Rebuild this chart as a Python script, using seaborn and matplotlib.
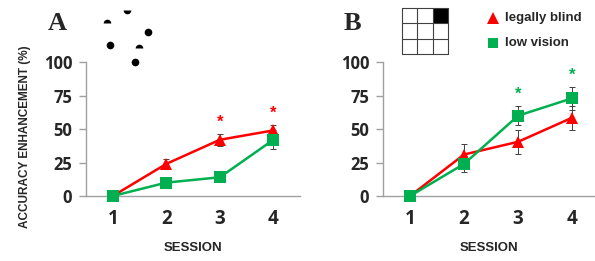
import numpy as np
import pandas as pd
import matplotlib
matplotlib.use("Agg")
import matplotlib.pyplot as plt
import seaborn as sns

# Data
sessions = [1, 2, 3, 4]
blind_a = [0, 24, 42, 49]
blind_a_err = [0, 4, 4.5, 4]
low_a = [0, 10, 14, 42]
low_a_err = [0, 4, 0, 7]
star_a = [3, 4]
star_a_y = [55, 62]

blind_b = [0, 31, 40.5, 58.5]
blind_b_err = [0, 8, 9, 9]
low_b = [0, 24, 60, 73]
low_b_err = [0, 6, 7, 8.5]
star_b = [3, 4]
star_b_y = [76, 90]

yticks = [0, 25, 50, 75, 100]
red = "#FF0000"
green = "#00B050"
axis_gray = "#A0A0A0"
label_font = ["Liberation Sans", "DejaVu Sans"]
tick_font = ["Open Sans", "DejaVu Sans"]

sns.set_style("white")
plt.rcParams["font.family"] = label_font

fig = plt.figure(figsize=(5.95, 2.61), dpi=100)
ax_a = fig.add_axes([0.1445, 0.249, 0.36, 0.513])
ax_b = fig.add_axes([0.6437, 0.249, 0.357, 0.513])


def draw_panel(ax, blind, blind_err, low, low_err, stars, star_y, star_color, xmax):
    df = pd.DataFrame({
        "session": sessions * 2,
        "value": blind + low,
        "group": ["legally blind"] * 4 + ["low vision"] * 4,
    })
    ax.errorbar(sessions, blind, yerr=blind_err, fmt="none", ecolor="#404040",
                elinewidth=0.7, capsize=2, capthick=0.7, zorder=2)
    ax.errorbar(sessions, low, yerr=low_err, fmt="none", ecolor="#404040",
                elinewidth=0.7, capsize=2, capthick=0.7, zorder=2)
    sns.lineplot(data=df[df.group == "legally blind"], x="session", y="value",
                 color=red, marker="^", markersize=9, markeredgewidth=0,
                 linewidth=1.8, ax=ax, legend=False, clip_on=False, zorder=3)
    sns.lineplot(data=df[df.group == "low vision"], x="session", y="value",
                 color=green, marker="s", markersize=8, markeredgewidth=0,
                 linewidth=1.8, ax=ax, legend=False, clip_on=False, zorder=4)
    for sx, sy in zip(stars, star_y):
        ax.text(sx, sy, "*", color=star_color, ha="center", va="center",
                fontsize=12, fontweight="bold")
    ax.set_xlim(0.5, xmax)
    ax.set_ylim(0, 100)
    ax.set_yticks(yticks)
    ax.set_xticks(sessions)
    ax.set_xlabel("SESSION", fontsize=9.5, fontweight="bold", labelpad=10,
                  family=label_font)
    ax.set_ylabel("")
    for side in ["top", "right"]:
        ax.spines[side].set_visible(False)
    for side in ["left", "bottom"]:
        ax.spines[side].set_color(axis_gray)
        ax.spines[side].set_linewidth(1.0)
    ax.tick_params(axis="y", length=5, color=axis_gray, width=1, pad=5,
                   left=True)
    ax.tick_params(axis="x", length=0, pad=9)
    ax.set_yticklabels([str(t) for t in yticks], family=tick_font,
                       fontweight="bold", fontsize=12)
    ax.set_xticklabels([str(s) for s in sessions], family=tick_font,
                       fontweight="bold", fontsize=13.5)


draw_panel(ax_a, blind_a, blind_a_err, low_a, low_a_err, star_a, star_a_y, red, 4.5)
draw_panel(ax_b, blind_b, blind_b_err, low_b, low_b_err, star_b, star_b_y, green, 4.43)

fig.text(0.042, 0.475, "ACCURACY ENHANCEMENT (%)", rotation=90, ha="center",
         va="center", fontsize=8.5, fontweight="bold", family=label_font)

# Panel letters
fig.text(0.08, 0.91, "A", fontsize=19, fontweight="bold",
         family=["Liberation Serif", "DejaVu Serif"], va="center")
fig.text(0.578, 0.91, "B", fontsize=19, fontweight="bold",
         family=["Liberation Serif", "DejaVu Serif"], va="center")

# Dot stimulus sketch in panel A (figure pixel positions)
dots_x = [110, 148, 135]
dots_y = [45, 32, 62]
half_top_x = [107, 139]
half_top_y = [23, 48]
half_bot_x = [127]
half_bot_y = [10]
for x, y in zip(dots_x, dots_y):
    fig.add_artist(plt.Line2D([x / 595], [1 - y / 261], marker="o", markersize=5.5,
                              color="black", markeredgewidth=0))
for x, y in zip(half_top_x, half_top_y):
    fig.add_artist(plt.Line2D([x / 595], [1 - y / 261], marker="o", markersize=5.5,
                              color="black", fillstyle="top", markeredgewidth=0,
                              markerfacecoloralt="none"))
for x, y in zip(half_bot_x, half_bot_y):
    fig.add_artist(plt.Line2D([x / 595], [1 - y / 261], marker="o", markersize=5.5,
                              color="black", fillstyle="bottom", markeredgewidth=0,
                              markerfacecoloralt="none"))

# 3x3 grid icon in panel B
grid_ax = fig.add_axes([402 / 595, 1 - 54 / 261, 46 / 595, 46 / 261])
cells = np.zeros((3, 3))
cells[0, 2] = 1
grid_ax.imshow(cells, cmap="Greys", vmin=0, vmax=1, extent=(0, 3, 3, 0))
for k in range(4):
    grid_ax.axhline(k, color="#404040", linewidth=0.8, clip_on=False)
    grid_ax.axvline(k, color="#404040", linewidth=0.8, clip_on=False)
grid_ax.set_xlim(0, 3)
grid_ax.set_ylim(3, 0)
grid_ax.axis("off")

# Legend
fig.add_artist(plt.Line2D([493 / 595], [1 - 18 / 261], marker="^", markersize=9,
                          color=red, markeredgewidth=0))
fig.add_artist(plt.Line2D([493 / 595], [1 - 43 / 261], marker="s", markersize=7,
                          color=green, markeredgewidth=0))
fig.text(505 / 595, 1 - 18 / 261, "legally blind", fontsize=9.5, fontweight="bold",
         va="center", family=label_font)
fig.text(505 / 595, 1 - 43 / 261, "low vision", fontsize=9.5, fontweight="bold",
         va="center", family=label_font)

fig.savefig("out.png", dpi=100)
